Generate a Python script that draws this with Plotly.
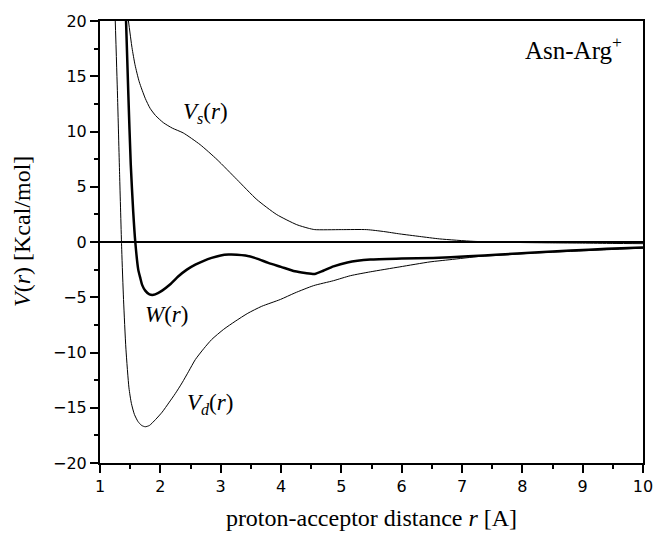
import plotly.graph_objects as go

# distances (A) and potentials (kcal/mol)
r_vs = [1.46, 1.53, 1.58, 1.65, 1.75, 1.83, 1.92, 2.05, 2.2, 2.38, 2.66, 2.94, 3.27,
        3.6, 3.93, 4.26, 4.45, 4.56, 5.0, 5.42, 5.7, 5.97, 6.3, 6.63, 7.19, 7.6, 8.0,
        8.5, 9.0, 9.5, 10.0]
v_s = [20.5, 17.6, 16.05, 14.5, 13.0, 12.1, 11.45, 10.8, 10.3, 9.87, 8.81, 7.46, 5.65,
       3.84, 2.48, 1.57, 1.25, 1.12, 1.12, 1.12, 0.95, 0.73, 0.5, 0.28, 0.06, 0.0, -0.05,
       -0.08, -0.1, -0.13, -0.15]

r_vd = [1.25, 1.29, 1.325, 1.36, 1.39, 1.43, 1.48, 1.52, 1.57, 1.63, 1.69, 1.75, 1.82, 1.92,
        2.03, 2.14, 2.25, 2.36, 2.47, 2.58, 2.72, 2.85, 3.05, 3.24, 3.45, 3.68, 3.99,
        4.23, 4.54, 4.87, 5.15, 5.48, 5.97, 6.47, 6.8, 7.3, 7.63, 8.2, 8.8, 9.4, 10.0]
v_d = [20.5, 13.3, 6.1, -0.7, -5.2, -9.7, -13.2, -14.6, -15.6, -16.25, -16.6, -16.72, -16.6, -16.07,
       -15.4, -14.56, -13.7, -12.75, -11.7, -10.64, -9.65, -8.83, -7.9, -7.18, -6.45, -5.82, -5.2,
       -4.61, -3.95, -3.5, -3.05, -2.7, -2.25, -1.8, -1.6, -1.3, -1.2, -1.0, -0.85, -0.7, -0.55]

r_w = [1.43, 1.47, 1.51, 1.55, 1.585, 1.634, 1.67, 1.70, 1.75, 1.82, 1.89, 1.96, 2.03, 2.16,
       2.3, 2.44, 2.58, 2.72, 2.85, 3.0, 3.13, 3.27, 3.41, 3.6, 3.79, 4.0, 4.23, 4.4,
       4.56, 4.7, 4.87, 5.1, 5.48, 6.0, 6.52, 7.1, 7.63, 8.2, 8.8, 9.4, 10.0]
w = [20.3, 13.3, 7.0, 2.8, 0.0, -2.5, -3.3, -3.9, -4.4, -4.74, -4.78, -4.62, -4.4, -3.85,
     -3.1, -2.5, -2.05, -1.7, -1.44, -1.22, -1.14, -1.15, -1.23, -1.5, -1.89, -2.25, -2.65, -2.8,
     -2.89, -2.6, -2.2, -1.85, -1.59, -1.5, -1.44, -1.3, -1.14, -0.95, -0.78, -0.62, -0.5]

serif = "Liberation Serif"
sans = "DejaVu Sans"

fig = go.Figure()
fig.add_trace(go.Scatter(x=r_vs, y=v_s, mode="lines",
                         line=dict(color="black", width=1, shape="spline", smoothing=0.6)))
fig.add_trace(go.Scatter(x=r_vd, y=v_d, mode="lines",
                         line=dict(color="black", width=1, shape="spline", smoothing=0.6)))
fig.add_trace(go.Scatter(x=r_w, y=w, mode="lines",
                         line=dict(color="black", width=2.5, shape="spline", smoothing=0.6)))

labels = [
    (9.68, 17.6, "Asn-Arg<sup>+</sup>", "right", 25),
    (2.75, 11.7, "<i>V</i><sub><i>s</i></sub>(<i>r</i>)", "center", 23),
    (2.1, -6.56, "<i>W</i>(<i>r</i>)", "center", 23),
    (2.83, -14.7, "<i>V</i><sub><i>d</i></sub>(<i>r</i>)", "center", 23),
]
for x, y, txt, anchor, size in labels:
    fig.add_annotation(x=x, y=y, text=txt, showarrow=False, xanchor=anchor,
                       font=dict(family=serif, size=size, color="black"))

W, H = 653, 533
ml, mr, mt, mb = 100, 10, 21, 70
pw, ph = W - ml - mr, H - mt - mb

# y axis title placed by hand, it sits a little above the plot centre
fig.add_annotation(x=(22 - ml) / pw, xref="paper", y=(H - mb - 232) / ph, yref="paper",
                   text="<i>V</i>(<i>r</i>) [Kcal/mol]",
                   textangle=-90, showarrow=False, xanchor="center", yanchor="middle",
                   font=dict(family=serif, size=24, color="black"))

axis_common = dict(
    showline=True, linecolor="black", linewidth=2, mirror=True,
    ticks="outside", ticklen=8, tickwidth=2, tickcolor="black",
    showgrid=False, automargin=False, ticklabeloverflow="allow",
    tickfont=dict(family=sans, size=16, color="black"),
    title_font=dict(family=serif, size=24, color="black"),
)
fig.update_xaxes(range=[1, 10], dtick=1, tick0=1,
                 minor=dict(ticks="outside", ticklen=4, tickwidth=2, tickcolor="black", dtick=0.5),
                 title_text="proton-acceptor distance <i>r</i> [A]", title_standoff=14,
                 zeroline=False, **axis_common)
fig.update_yaxes(range=[-20, 20], dtick=5,
                 minor=dict(ticks="outside", ticklen=4, tickwidth=2, tickcolor="black", dtick=2.5),
                 zeroline=True, zerolinecolor="black", zerolinewidth=2, **axis_common)

fig.update_layout(
    width=W, height=H,
    margin=dict(l=ml, r=mr, t=mt, b=mb),
    plot_bgcolor="white", paper_bgcolor="white",
    showlegend=False,
)
# page body has a default 8px margin, drop it so the figure fills the window
fig.write_html("out.html", config={"displayModeBar": False},
               post_script="document.body.style.margin='0';")
